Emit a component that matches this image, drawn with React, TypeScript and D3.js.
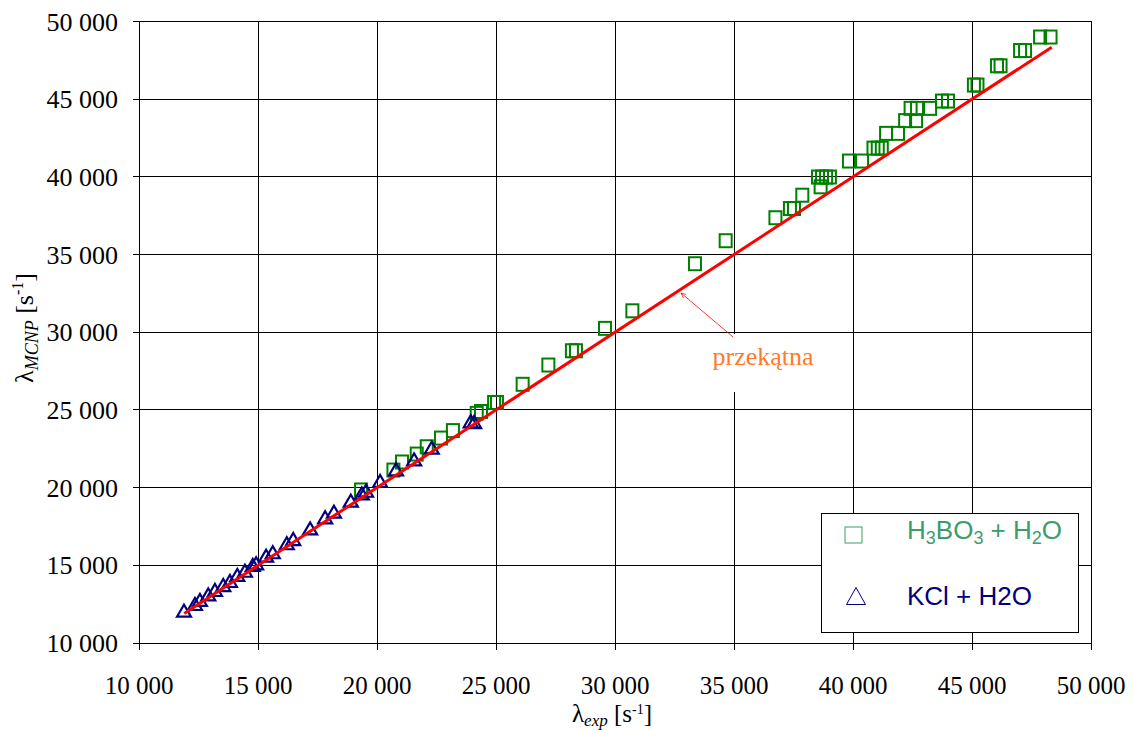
import React from "react";
import * as d3 from "d3";

const xTicks = [10000, 15000, 20000, 25000, 30000, 35000, 40000, 45000, 50000];
const yTicks = [10000, 15000, 20000, 25000, 30000, 35000, 40000, 45000, 50000];

const h3boX = [19330, 20690, 21050, 21670, 22090, 22690, 23190, 24190, 24370, 24920, 25040, 26120, 27200, 28190, 28360, 29580, 30730, 33360, 34650, 36740, 37350, 37520, 37870, 38640, 38530, 38700, 38870, 39030, 39830, 40380, 40860, 41040, 41210, 41390, 41890, 42190, 42650, 42420, 42690, 43240, 43740, 43990, 45080, 45230, 46050, 46200, 47020, 47230, 47860, 48300];
const h3boY = [19850, 21130, 21650, 22160, 22630, 23190, 23670, 24780, 24900, 25480, 25480, 26650, 27890, 28810, 28810, 30250, 31380, 34410, 35890, 37370, 37960, 37960, 38820, 39360, 39990, 39990, 39990, 39990, 41020, 41020, 41850, 41850, 41850, 42800, 42800, 43620, 43620, 44410, 44410, 44410, 44880, 44880, 45910, 45910, 47150, 47150, 48130, 48130, 49000, 49000];

const kclX = [11890, 12350, 12560, 12910, 13190, 13540, 13820, 14130, 14450, 14780, 14920, 15340, 15620, 16210, 16480, 17190, 17820, 18190, 18900, 19360, 19540, 20130, 20800, 21560, 22300, 23940, 24080];
const kclY = [12080, 12510, 12770, 13130, 13410, 13730, 13990, 14380, 14650, 15020, 15130, 15620, 15840, 16420, 16690, 17380, 18090, 18450, 19160, 19630, 19800, 20430, 21180, 21820, 22570, 24270, 24220];

const diagonal = [11900, 48350];

const seriesNames = ["H3BO3 + H2O", "KCl + H2O"];

const W = 1133;
const H = 731;
const L = 139, R = 1091, T = 21.5, B = 643;

const fmt = d3.formatLocale({ decimal: ",", thousands: " ", grouping: [3], currency: ["", ""] }).format(",");

export default function App() {
  const x = d3.scaleLinear().domain([10000, 50000]).range([L, R]);
  const y = d3.scaleLinear().domain([10000, 50000]).range([B, T]);
  const serif = "'Liberation Serif', 'Times New Roman', serif";
  const sans = "'Liberation Sans', Arial, sans-serif";
  const squares = h3boX.map((v, i) => [x(v), y(h3boY[i])]);
  const tris = kclX.map((v, i) => [x(v), y(kclY[i])]);
  const line = d3.line()(diagonal.map((v) => [x(v), y(v)]) as [number, number][]);
  const triPath = (cx: number, cy: number, w: number, h: number) =>
    `M${cx - w / 2},${cy + h / 2}L${cx},${cy - h / 2}L${cx + w / 2},${cy + h / 2}Z`;

  return (
    <svg width={W} height={H} style={{ position: "absolute", left: 0, top: 0, background: "#fff" }}>
      <rect x={0} y={0} width={W} height={H} fill="#fff" />
      {/* grid */}
      {xTicks.map((t) => (
        <line key={"gx" + t} x1={x(t)} x2={x(t)} y1={T} y2={B + 7} stroke="#000" strokeWidth={1} shapeRendering="crispEdges" />
      ))}
      {yTicks.map((t) => (
        <line key={"gy" + t} x1={L - 6} x2={R} y1={y(t)} y2={y(t)} stroke="#000" strokeWidth={1} shapeRendering="crispEdges" />
      ))}
      <rect x={L} y={T} width={R - L} height={B - T} fill="none" stroke="#000" strokeWidth={1} shapeRendering="crispEdges" />
      {/* annotation text box background */}
      <rect x={706} y={334} width={116} height={58} fill="#fff" />
      {/* tick labels */}
      {yTicks.map((t) => (
        <text key={"ly" + t} x={118} y={y(t) + 9} textAnchor="end" fontFamily={serif} fontSize={26} fill="#000">
          {fmt(t)}
        </text>
      ))}
      {xTicks.map((t) => (
        <text key={"lx" + t} x={x(t)} y={694} textAnchor="middle" fontFamily={serif} fontSize={25} fill="#000">
          {fmt(t)}
        </text>
      ))}
      {/* axis titles */}
      <text x={612} y={722} textAnchor="middle" fontFamily={serif} fontSize={25} fill="#000">
        λ<tspan fontStyle="italic" fontSize={17} dy={4}>exp</tspan>
        <tspan dy={-4}> [s</tspan>
        <tspan fontSize={14} dy={-8}>-1</tspan>
        <tspan dy={8}>]</tspan>
      </text>
      <text transform={`translate(33,328) rotate(-90)`} textAnchor="middle" fontFamily={serif} fontSize={26} fill="#000">
        λ<tspan fontStyle="italic" fontSize={18} dy={5}>MCNP</tspan>
        <tspan dy={-5}> [s</tspan>
        <tspan fontSize={16} dy={-10}>-1</tspan>
        <tspan dy={10}>]</tspan>
      </text>
      {/* squares */}
      {squares.map(([cx, cy], i) => (
        <rect key={"s" + i} x={cx - 6} y={cy - 6.5} width={12} height={13} fill="none" stroke="#008000" strokeWidth={2} />
      ))}
      {/* triangles */}
      {tris.map(([cx, cy], i) => (
        <path key={"t" + i} d={triPath(cx, cy, 14, 12)} fill="none" stroke="#000080" strokeWidth={2.2} strokeLinejoin="miter" />
      ))}
      {/* diagonal */}
      <path d={line || ""} stroke="#ff0000" strokeWidth={3} fill="none" />
      {/* annotation */}
      <defs>
        <marker id="arr" viewBox="0 0 10 10" refX={9} refY={5} markerWidth={7} markerHeight={7} orient="auto">
          <path d="M0,1 L9,5 L0,9" fill="none" stroke="#ff0000" strokeWidth={1.2} />
        </marker>
      </defs>
      <line x1={733} y1={337} x2={681} y2={293} stroke="#ff0000" strokeWidth={0.8} markerEnd="url(#arr)" />
      <text x={763} y={365} textAnchor="middle" fontFamily={serif} fontSize={26} fill="#ff7a2a">
        przekątna
      </text>
      {/* legend */}
      <rect x={821} y={513} width={257} height={119} fill="#fff" stroke="#000" strokeWidth={1} shapeRendering="crispEdges" />
      <rect x={845} y={527} width={17} height={16} fill="none" stroke="#3a9d6b" strokeWidth={1} />
      <text x={907} y={539} fontFamily={sans} fontSize={26} fill="#3a9d6b">
        H<tspan fontSize={18} dy={5}>3</tspan>
        <tspan dy={-5}>BO</tspan>
        <tspan fontSize={18} dy={5}>3</tspan>
        <tspan dy={-5}> + H</tspan>
        <tspan fontSize={18} dy={5}>2</tspan>
        <tspan dy={-5}>O</tspan>
      </text>
      <path d={triPath(856, 596, 19, 17)} fill="none" stroke="#000080" strokeWidth={1} />
      <text x={907} y={605} fontFamily={sans} fontSize={26} fill="#000080">
        {seriesNames[1]}
      </text>
    </svg>
  );
}
